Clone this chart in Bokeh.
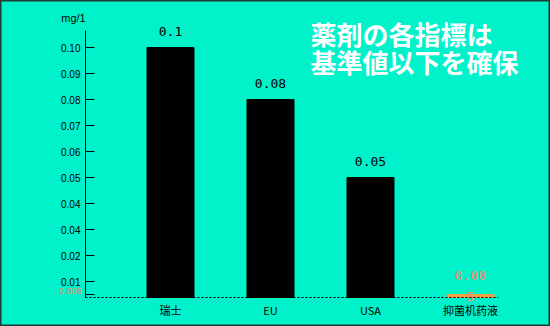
from bokeh.plotting import figure
from bokeh.models import ColumnDataSource, Range1d, FixedTicker, Label
from bokeh.core.properties import value
from bokeh.embed import file_html
from bokeh.resources import INLINE

categories = ["瑞士", "EU", "USA", "抑菌机药液"]
values = [0.1, 0.08, 0.05, 0.005]
value_labels = ["0.1", "0.08", "0.05", "0.00\n5"]
bar_colors = ["#000000", "#000000", "#000000", "#F5A040"]
label_colors = ["#000000", "#000000", "#000000", "#F08C68"]
y_ticks = [0.005, 0.01, 0.02, 0.03, 0.04, 0.05, 0.06, 0.07, 0.08, 0.09, 0.10]
y_tick_labels = ["", "0.01", "0.02", "0.04", "0.04", "0.05", "0.06", "0.07", "0.08", "0.09", "0.10"]
unit_label = "mg/1"
small_tick_label = "0.005"
headline = ["薬剤の各指標は", "基準値以下を確保"]

BG = "#00F2CA"
xs = list(range(len(categories)))
X0, X1 = -1.70, 3.80          # whole canvas width
Y0, Y1 = -0.0073, 0.11808     # whole canvas height
Y_BASE = 0.00385              # dashed baseline
X_AXIS = -0.85                # vertical axis position
AXIS_TOP = 0.1065
X_AXIS_END = 3.28

offsets = [-12 if v > 0.01 else 9 for v in values]
src = ColumnDataSource(dict(x=xs, top=values, color=bar_colors, label=value_labels,
                            lcolor=label_colors, yoff=offsets))

p = figure(width=550, height=326, output_backend="svg", toolbar_location=None,
           x_range=Range1d(X0, X1), y_range=Range1d(Y0, Y1),
           min_border_left=0, min_border_right=0, min_border_top=0, min_border_bottom=0)
p.background_fill_color = BG
p.border_fill_color = BG
p.outline_line_color = "#1E3A34"
p.outline_line_width = 2
p.xgrid.visible = False
p.ygrid.visible = False

p.vbar(x="x", top="top", bottom=Y_BASE, width=0.47, color="color", source=src)

p.text(x="x", y="top", text="label", text_color="lcolor", source=src,
       text_font=value("DejaVu Sans Mono"), text_font_size="13px",
       text_align="center", text_baseline="bottom", y_offset="yoff",
       text_line_height=1.4)

# axis lines drawn to the reference's extents
p.segment(x0=[X_AXIS], y0=[Y_BASE], x1=[X_AXIS], y1=[AXIS_TOP], line_color="black", line_width=1)
p.segment(x0=[X_AXIS], y0=[Y_BASE], x1=[X_AXIS_END], y1=[Y_BASE], line_color="black",
          line_width=1, line_dash="2 2")

p.xaxis.fixed_location = Y_BASE
p.xaxis.ticker = FixedTicker(ticks=xs)
p.xaxis.major_label_overrides = {x: c for x, c in zip(xs, categories)}
p.xaxis.major_tick_line_color = None
p.xaxis.minor_tick_line_color = None
p.xaxis.axis_line_color = None
p.xaxis.major_label_standoff = -2
p.xaxis.major_label_text_font = "Noto Sans CJK JP"
p.xaxis.major_label_text_font_size = "11px"
p.xaxis.major_label_text_color = "black"

p.yaxis.fixed_location = X_AXIS
p.yaxis.ticker = FixedTicker(ticks=y_ticks)
p.yaxis.major_label_overrides = {t: l for t, l in zip(y_ticks, y_tick_labels)}
p.yaxis.major_tick_in = 9
p.yaxis.major_tick_out = 0
p.yaxis.major_tick_line_color = "black"
p.yaxis.minor_tick_line_color = None
p.yaxis.axis_line_color = None
p.yaxis.major_label_standoff = 5
p.yaxis.major_label_text_font = "Liberation Sans"
p.yaxis.major_label_text_font_size = "10px"
p.yaxis.major_label_text_color = "black"

p.add_layout(Label(x=-0.97, y=0.1115, text=unit_label, text_align="center",
                   text_baseline="middle", text_font="Liberation Sans",
                   text_font_size="11px", text_color="black"))
p.add_layout(Label(x=-1.0, y=0.0065, text=small_tick_label, text_align="center",
                   text_baseline="middle", text_font="Liberation Sans",
                   text_font_size="9px", text_color="#F08C68"))

for i, line in enumerate(headline):
    p.add_layout(Label(x=1.40, y=0.1052 - i * 0.0104, text=line, text_align="left",
                       text_baseline="middle", text_font="Noto Sans CJK JP",
                       text_font_size="26px", text_font_style="bold",
                       text_color="white"))

open("out.html", "w").write(file_html(p, INLINE))
